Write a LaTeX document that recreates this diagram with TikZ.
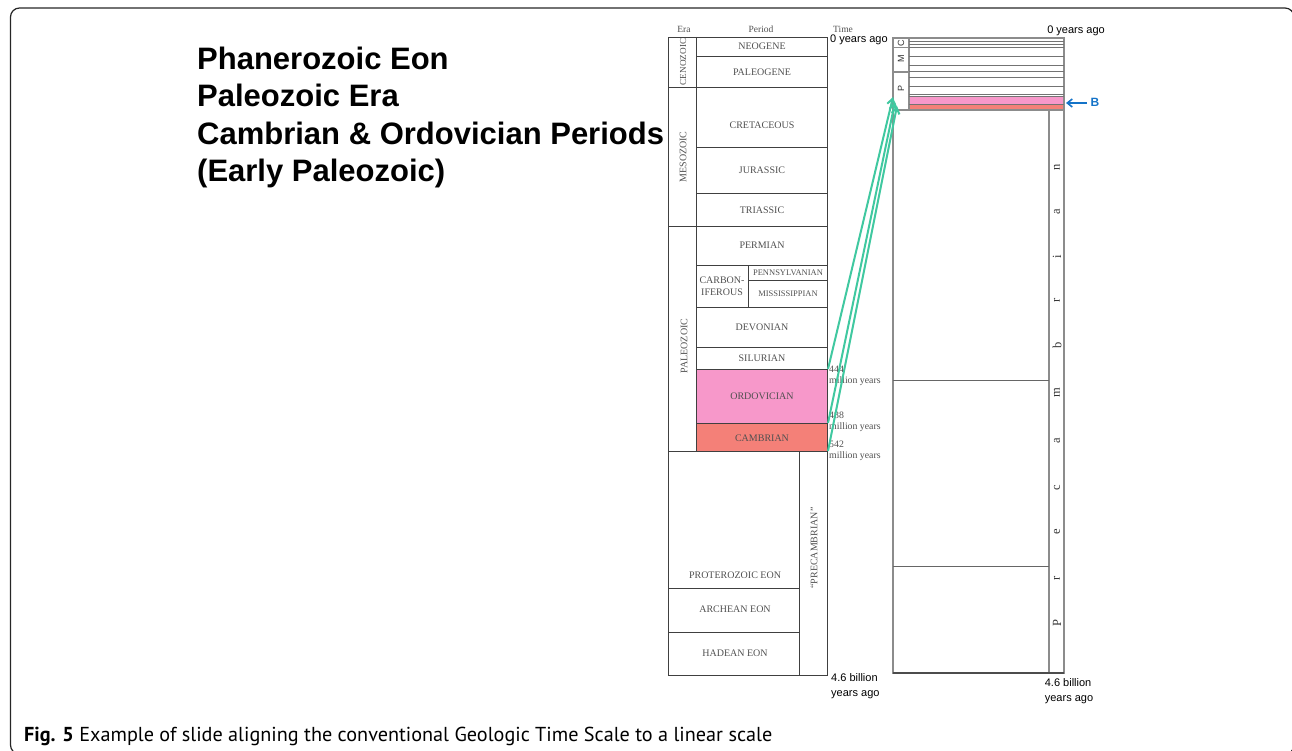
\documentclass[tikz,border=0pt]{standalone}
\usepackage{fontspec}
\setmainfont{Liberation Serif}
\newfontfamily\arialf{Liberation Sans}
\newfontfamily\capf{PT Sans}
\usetikzlibrary{arrows.meta}
\definecolor{ordpink}{RGB}{247,152,202}
\definecolor{cambsal}{RGB}{244,128,120}
\definecolor{arrgreen}{RGB}{64,200,160}
\definecolor{bblue}{RGB}{20,115,200}
\definecolor{gtext}{RGB}{80,80,80}
\begin{document}
\begin{tikzpicture}[x=1pt,y=-1pt,
  lc/.style={draw=black!75,line width=0.9pt},
  rc/.style={draw=black!45,line width=1.1pt},
  per/.style={font=\fontsize{10}{11.5}\selectfont,text=gtext,inner sep=0pt},
  small/.style={font=\fontsize{8.5}{9}\selectfont,text=gtext,inner sep=0pt},
  hdr/.style={font=\fontsize{9.5}{10}\selectfont,text=gtext,inner sep=0pt},
  tlab/.style={font=\fontsize{9.8}{11.5}\selectfont,text=gtext,inner sep=0pt,anchor=west,align=left},
  slab/.style={font=\arialf\fontsize{11}{15}\selectfont,inner sep=0pt,align=left},
  title/.style={font=\arialf\bfseries\fontsize{31}{36}\selectfont,inner sep=0pt,anchor=base west},
  letr/.style={font=\fontsize{12.5}{13}\selectfont,rotate=90,inner sep=0pt,text=black!80},
  eral/.style={font=\arialf\fontsize{9}{10}\selectfont,rotate=90,inner sep=0pt,text=black!80},
  garrow/.style={draw=arrgreen,line width=2pt,-{Straight Barb[length=6pt,width=8pt]}}
]
\useasboundingbox (0,0) rectangle (1292,751);
\clip (0,0) rectangle (1292,751);
% frame
\draw[line width=1.2pt,draw=black!85,rounded corners=9pt] (10.5,8) rectangle (1294,754);

% titles
\node[title] (t1) at (197,70) {Phanerozoic Eon};
\node[title] (t2) at (197,107) {Paleozoic Era};
\node[title] (t3) at (197,145) {Cambrian \& Ordovician Periods};
\node[title] (t4) at (197,182) {(Early Paleozoic)};

% caption
\node[font=\capf\fontsize{20.2}{22}\selectfont,anchor=base west,inner sep=0pt] (cap) at (24,741)
  {\textbf{Fig. 5} Example of slide aligning the conventional Geologic Time Scale to a linear scale};

% ===== left chart =====
\fill[ordpink] (696,369) rectangle (827,423);
\fill[cambsal] (696,423) rectangle (827,451);
\draw[lc] (668,37) rectangle (827,451);
\draw[lc] (696,37) -- (696,451);
\draw[lc] (668,87) -- (827,87);
\draw[lc] (668,226) -- (827,226);
\foreach \yy in {56,147,193,265,307,347,369,423} \draw[lc] (696,\yy) -- (827,\yy);
\draw[lc] (748,280) -- (827,280);
\draw[lc] (748,265) -- (748,307);
\draw[lc] (668,451) rectangle (827,675);
\draw[lc] (799,451) -- (799,675);
\draw[lc] (668,588) -- (799,588);
\draw[lc] (668,632) -- (799,632);

\node[hdr] (hera) at (684,29) {Era};
\node[hdr] (hper) at (761,29) {Period};
\node[hdr] (htime) at (843,29) {Time};

\node[per,rotate=90,font=\fontsize{9.2}{10}\selectfont] (ceno) at (683,62) {CENOZOIC};
\node[per,rotate=90] (meso) at (683,157) {MESOZOIC};
\node[per,rotate=90] (paleo) at (684,346) {PALEOZOIC};

\node[per] (neo) at (762,46) {NEOGENE};
\node[per] (pgn) at (762,72) {PALEOGENE};
\node[per] (cre) at (762,125) {CRETACEOUS};
\node[per] (jur) at (762,170) {JURASSIC};
\node[per] (tri) at (762,210) {TRIASSIC};
\node[per] (perm) at (762,245) {PERMIAN};
\node[per,align=center] (carb) at (722,286) {CARBON-\\IFEROUS};
\node[small] (penn) at (788,272.5) {PENNSYLVANIAN};
\node[small] (miss) at (788,293.5) {MISSISSIPPIAN};
\node[per] (dev) at (762,327) {DEVONIAN};
\node[per] (sil) at (762,358) {SILURIAN};
\node[per] (ord) at (762,396) {ORDOVICIAN};
\node[per] (camb) at (762,438) {CAMBRIAN};
\node[per] (prot) at (735,575) {PROTEROZOIC EON};
\node[per] (arch) at (735,609) {ARCHEAN EON};
\node[per] (had) at (735,653) {HADEAN EON};
\node[per,rotate=90] (prec) at (814,548) {``PRECAMBRIAN''};

\node[tlab] (m444) at (829,376) {444\\million years};
\node[tlab] (m488) at (829,422) {488\\million years};
\node[tlab] (m542) at (829,451) {542\\million years};
\node[slab,anchor=west] (zeroL) at (830,40) {0 years ago};
\node[slab,anchor=north west] (bilL) at (831,673) {4.6 billion\\years ago};

% ===== right chart =====
\fill[ordpink] (909,96.7) rectangle (1064,104.3);
\fill[cambsal] (909,104.3) rectangle (1064,110);
\draw[rc] (893,38) rectangle (1064,673);
\draw[rc] (909,38) -- (909,110);
\draw[rc] (893,47.3) -- (909,47.3);
\draw[rc] (893,72) -- (909,72);
\foreach \yy in {41,44.2,47.3,56.7,65,71.7,77.7,86,94.3,96.7,104.3}
  \draw[draw=black!55,line width=0.7pt] (909,\yy) -- (1064,\yy);
\draw[rc] (893,110) -- (1064,110);
\draw[rc] (1049,110) -- (1049,673);
\draw[draw=black!60,line width=0.8pt] (893,380) -- (1049,380);
\draw[draw=black!60,line width=0.8pt] (893,566) -- (1049,566);
\draw[draw=black!70,line width=1.5pt] (893,673) -- (1064,673);

\node[eral] (eC) at (901,43) {C};
\node[eral] (eM) at (901,59) {M};
\node[eral] (eP) at (901,89) {P};

\node[letr] (l1) at (1057,623) {P};
\node[letr] (l2) at (1057,578) {r};
\node[letr] (l3) at (1057,532) {e};
\node[letr] (l4) at (1057,488) {c};
\node[letr] (l5) at (1057,441) {a};
\node[letr] (l6) at (1057,393) {m};
\node[letr] (l7) at (1057,345) {b};
\node[letr] (l8) at (1057,300) {r};
\node[letr] (l9) at (1057,257) {i};
\node[letr] (l10) at (1057,212) {a};
\node[letr] (l11) at (1057,167) {n};

\node[slab] (zeroR) at (1076,31) {0 years ago};
\node[slab,anchor=north] (bilR) at (1069,678) {4.6 billion\\years ago};

% B arrow
\coordinate (bstart) at (1087,103);
\coordinate (bend) at (1066,103);
\draw[draw=bblue,line width=1.6pt,-{Straight Barb[length=5pt,width=8pt]}] (bstart) -- (bend);
\node[font=\arialf\bfseries\fontsize{12}{14}\selectfont,text=bblue,inner sep=0pt] (blab) at (1095,102) {B};

% green arrows
\coordinate (g1s) at (828,369);
\coordinate (g2s) at (828,423);
\coordinate (g3s) at (828,451);
\coordinate (g1e) at (893,97);
\coordinate (g2e) at (895,102);
\coordinate (g3e) at (897,106);
\draw[garrow] (g1s) -- (g1e);
\draw[garrow] (g2s) -- (g2e);
\draw[garrow] (g3s) -- (g3e);
\end{tikzpicture}
\end{document}
